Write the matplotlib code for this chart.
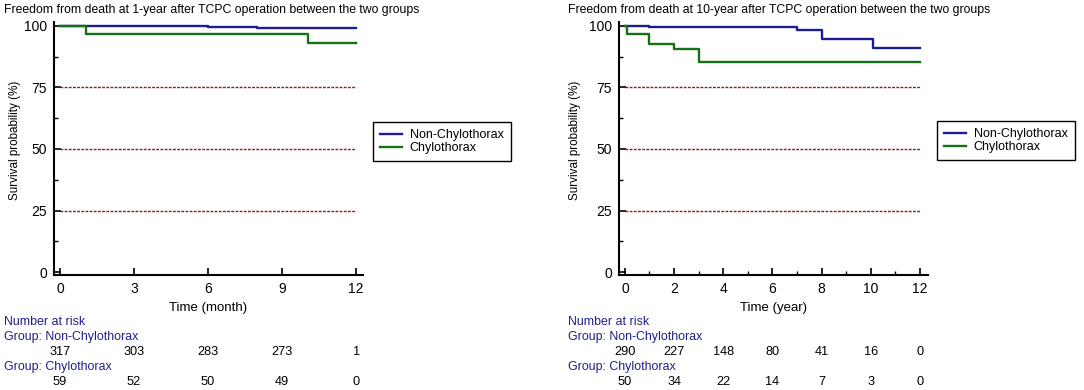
import matplotlib
matplotlib.use("Agg")
import matplotlib.pyplot as plt
from matplotlib.transforms import blended_transform_factory

plt.rcParams['font.family'] = ['Liberation Sans', 'DejaVu Sans']

# Datos
grupos = ['Non-Chylothorax', 'Chylothorax']

t1_non = [0, 6.0, 8.0, 12]
s1_non = [100, 99.7, 99.3, 99.3]
t1_chy = [0, 1.05, 10.05, 12]
s1_chy = [100, 96.6, 93.0, 93.0]
ticks1 = [0, 3, 6, 9, 12]
risk1_non = [317, 303, 283, 273, 1]
risk1_chy = [59, 52, 50, 49, 0]

t10_non = [0, 1.0, 7.0, 8.0, 10.1, 12]
s10_non = [100, 99.5, 98.3, 94.6, 91.1, 91.1]
t10_chy = [0, 0.08, 1.0, 2.0, 3.0, 12]
s10_chy = [100, 96.6, 92.8, 90.5, 85.4, 85.4]
ticks10 = [0, 2, 4, 6, 8, 10, 12]
risk10_non = [290, 227, 148, 80, 41, 16, 0]
risk10_chy = [50, 34, 22, 14, 7, 3, 0]

ref_lines = [25, 50, 75]

azul = '#1c1c96'
verde = '#16701a'
navy = '#1f1f8c'
vermelho = '#8b1a1a'

fig = plt.figure(figsize=(10.84, 3.9), dpi=100)
W, H = 1084, 390


def painel(left_px, titulo, xlabel, tn, sn, tc, sc, ticks, minor, rn, rc, xmax, leg_px, title_px, ylab_px):
    ax = fig.add_axes([left_px / W, 1 - 275 / H, 309 / W, 253 / H])
    ax.step(tn, sn, where='post', color=azul, lw=1.7, label=grupos[0])
    ax.step(tc, sc, where='post', color=verde, lw=1.7, label=grupos[1])
    for y in ref_lines:
        ax.plot([0, 12], [y, y], color=vermelho, lw=1.0, ls=(0, (2, 1)))
    ax.set_xlim(-0.24, xmax)
    ax.set_ylim(-1.2, 101.6)
    ax.set_xticks(ticks)
    if minor:
        ax.set_xticks(minor, minor=True)
    ax.set_yticks([0, 25, 50, 75, 100])
    ax.set_yticks([12.5, 37.5, 62.5, 87.5], minor=True)
    ax.tick_params(direction='in', length=5, width=1.2, labelsize=10, pad=5)
    ax.tick_params(which='minor', direction='in', length=3, width=1)
    for s in ['top', 'right']:
        ax.spines[s].set_visible(False)
    for s in ['left', 'bottom']:
        ax.spines[s].set_linewidth(1.5)
    ax.set_xlabel(xlabel, fontsize=9.5, labelpad=4)
    fig.text(ylab_px / W, 1 - 140 / H, 'Survival probability (%)', fontsize=8.4,
             rotation=90, ha='center', va='center')
    fig.text(title_px / W, 1 - 10 / H, titulo, fontsize=8.8, va='center', ha='left')

    leg = fig.legend(handles=ax.get_lines()[:2], loc='upper left',
                     bbox_to_anchor=(leg_px[0] / W, 1 - leg_px[1] / H),
                     borderaxespad=0, fancybox=False, edgecolor='black', fontsize=9.0,
                     handlelength=1.8, handletextpad=0.6, borderpad=0.55,
                     labelspacing=0.12, framealpha=1)
    leg.get_frame().set_linewidth(1.0)

    # tabela de numero em risco
    tr = blended_transform_factory(ax.transData, fig.transFigure)
    x0 = title_px / W
    fig.text(x0, 1 - 322 / H, 'Number at risk', color=navy, fontsize=8.9, va='center')
    fig.text(x0, 1 - 337 / H, 'Group: ' + grupos[0], color=navy, fontsize=8.9, va='center')
    fig.text(x0, 1 - 367 / H, 'Group: ' + grupos[1], color=navy, fontsize=8.9, va='center')
    for t, n in zip(ticks, rn):
        ax.text(t, 1 - 352 / H, str(n), transform=tr, ha='center', va='center', fontsize=9.2)
    for t, n in zip(ticks, rc):
        ax.text(t, 1 - 382 / H, str(n), transform=tr, ha='center', va='center', fontsize=9.2)
    return ax


painel(54, 'Freedom from death at 1-year after TCPC operation between the two groups',
       'Time (month)', t1_non, s1_non, t1_chy, s1_chy, ticks1, None,
       risk1_non, risk1_chy, 12.28, (373, 122), 4, 15)
painel(619, 'Freedom from death at 10-year after TCPC operation between the two groups',
       'Time (year)', t10_non, s10_non, t10_chy, s10_chy, ticks10, [1, 3, 5, 7, 9, 11],
       risk10_non, risk10_chy, 12.33, (937, 121), 568, 575)

fig.savefig('out.png', dpi=100)
